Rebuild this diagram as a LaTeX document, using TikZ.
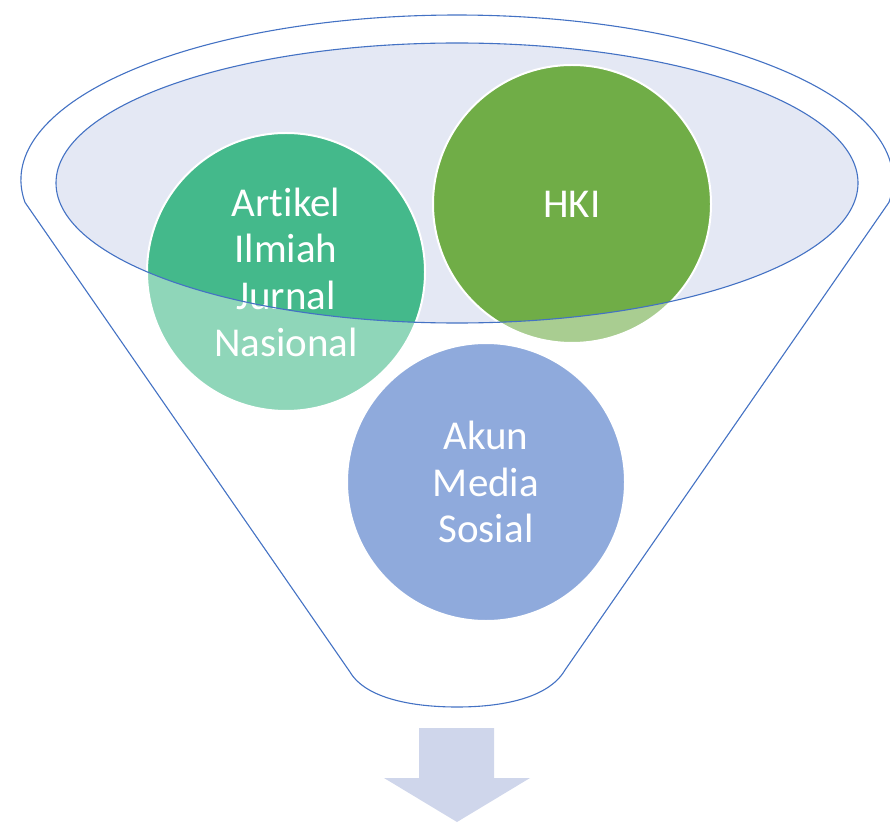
\documentclass[tikz,border=0pt]{standalone}
\usepackage{fontspec}
\setmainfont[RawFeature=-liga]{Carlito}
\definecolor{lineblue}{HTML}{4472C4}
\definecolor{ellfill}{HTML}{E4E8F4}
\definecolor{artDark}{HTML}{44B98B}
\definecolor{artLight}{HTML}{8FD6B9}
\definecolor{hkiDark}{HTML}{70AD47}
\definecolor{hkiLight}{HTML}{A9CD91}
\definecolor{akunCol}{HTML}{8FAADC}
\definecolor{arrowCol}{HTML}{CFD6EB}
\tikzset{
  funnelline/.style={draw=lineblue, line width=1.1pt},
  bubble/.style={circle, minimum size=278pt, inner sep=0pt, draw=none},
  bubbleedge/.style={draw=white, line width=2pt},
  bubbletext/.style={align=center, text=white, font=\fontsize{41}{46.7}\selectfont},
}
\begin{document}
\begin{tikzpicture}[x=1pt,y=1pt]
\useasboundingbox (0,0) rectangle (890,823);
% outer funnel
\coordinate (lc) at (25,620.6);
\draw[funnelline, fill=white] (lc) arc[start angle=187.8, end angle=-7.8, x radius=436, y radius=165]
  coordinate (rc) -- (565,153) coordinate (rb)
  .. controls (548,124) and (500,116) .. (457,116)
  .. controls (414,116) and (366,124) .. (350,151) coordinate (lb) -- cycle;
% inner ellipse fill
\fill[ellfill] (457,640) ellipse[x radius=401, y radius=140];
% bubbles
\node[bubble, fill=artLight] (artikel) at (286,551) {};
\node[bubble, fill=hkiLight] (hki) at (572,619) {};
\node[bubble, fill=akunCol] (akun) at (486,341) {};
\begin{scope}
  \clip (457,640) ellipse[x radius=401, y radius=140];
  \fill[artDark] (artikel.center) circle[radius=139];
  \fill[hkiDark] (hki.center) circle[radius=139];
\end{scope}
\draw[bubbleedge] (artikel.center) circle[radius=139];
\draw[bubbleedge] (hki.center) circle[radius=139];
\draw[bubbleedge] (akun.center) circle[radius=139];
\node[bubbletext] (artikelText) at (artikel.center) {Artikel\\Ilmiah\\Jurnal\\Nasional};
\node[bubbletext] (hkiText) at (hki.center) {HKI};
\node[bubbletext] (akunText) at (akun.center) {Akun\\Media\\Sosial};
% inner ellipse outline
\draw[funnelline] (457,640) ellipse[x radius=401, y radius=140];
% down arrow
\fill[arrowCol] (419,95) -- (494,95) -- (494,45) -- (530,45) -- (457,1) -- (384,45) -- (419,45) -- cycle;
\end{tikzpicture}
\end{document}
